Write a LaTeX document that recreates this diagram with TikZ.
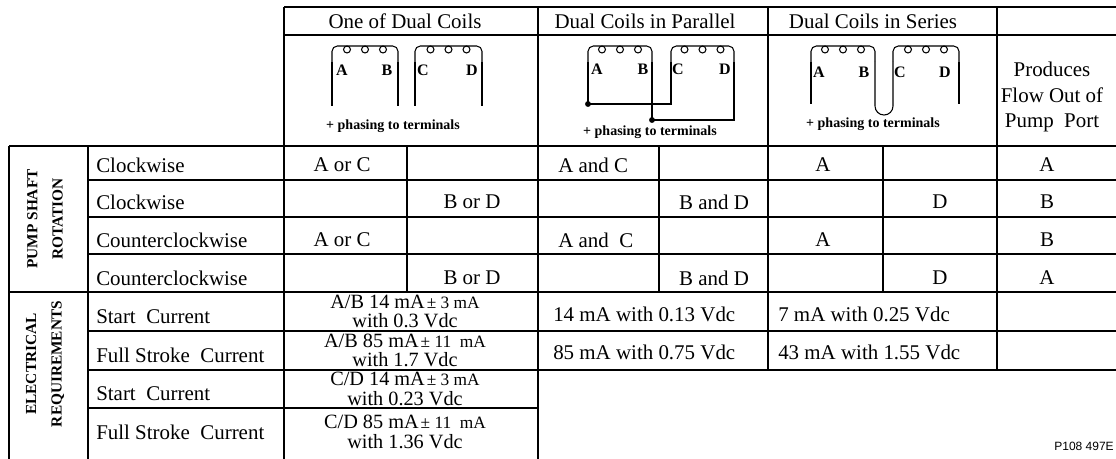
\documentclass[tikz,border=0pt]{standalone}
\usepackage{fontspec}
\setmainfont{Liberation Serif}
\newfontfamily\refsans{Liberation Sans}
\tikzset{
  rule/.style={black, line width=1.4pt},
  wire/.style={black, line width=0.8pt},
  txt/.style={font=\fontsize{15.7}{18}\selectfont, inner sep=0pt},
  pin/.style={font=\bfseries\fontsize{12}{12}\selectfont, inner sep=0pt},
  phase/.style={font=\bfseries\fontsize{10.5}{12}\selectfont, inner sep=0pt},
  side/.style={font=\bfseries\fontsize{11.5}{19}\selectfont, rotate=90, align=center, inner sep=0pt},
  spec/.style={font=\fontsize{15.2}{14.6}\selectfont, align=center, inner sep=0pt},
}
\newcommand{\tol}[1]{\kern1.5pt{\fontsize{13}{14.6}\selectfont ± #1}}
\begin{document}
\begin{tikzpicture}[x=0.75pt, y=-0.75pt]
\useasboundingbox (0,0) rectangle (1116,459);
% table rules
\foreach \y in {7,35} \draw[rule] (284,\y) -- (1116,\y);
\foreach \y in {146,292} \draw[rule] (9,\y) -- (1116,\y);
\foreach \y in {180,217,254,331,370} \draw[rule] (88,\y) -- (1116,\y);
\draw[rule] (88,408) -- (538,408);
\foreach \x in {9,88} \draw[rule] (\x,146) -- (\x,459);
\foreach \x in {284,538} \draw[rule] (\x,7) -- (\x,459);
\foreach \x in {768,997} \draw[rule] (\x,7) -- (\x,370);
\foreach \x in {407,659,883} \draw[rule] (\x,146) -- (\x,292);
% headers
\node[txt] (hone) at (405,21) {One of Dual Coils};
\node[txt] (hpar) at (645,21) {Dual Coils in Parallel};
\node[txt] (hser) at (873,21) {Dual Coils in Series};
\node[txt, align=center, font=\fontsize{15.7}{18.8}\selectfont] (hflow) at (1052,97) {Produces\\Flow Out of\\Pump~ Port};
% coils
\foreach \xl/\xr in {332/398, 415/482, 588/652, 671/734, 811/875, 893/959} {
  \draw[wire, rounded corners=4pt] (\xl,62) -- (\xl,46) -- (\xr,46) -- (\xr,62);
  \foreach \k in {-1,0,1}
    \draw[wire] ({(\xl+\xr)/2+18*\k},49.5) circle (2.6pt);
}
% one of dual coils
\foreach \x in {332,398,415,482} \draw[wire] (\x,62) -- (\x,106);
% parallel
\draw[wire] (588,62) -- (588,104) -- (671,104) -- (671,62);
\draw[wire] (652,62) -- (652,120) -- (734,120) -- (734,62);
\fill (588,104) circle (2.2pt);
\fill (652,120) circle (2.2pt);
% series
\draw[wire] (811,62) -- (811,104);
\draw[wire] (959,62) -- (959,104);
\draw[wire, rounded corners=6.7pt] (875,62) -- (875,115) -- (893,115) -- (893,62);
% terminal letters
\foreach \x/\t [count=\i] in {342/A, 387/B, 423/C, 472/D} \node[pin] (po\i) at (\x,70) {\t};
\foreach \x/\t [count=\i] in {597/A, 643/B, 678/C, 725/D} \node[pin] (pp\i) at (\x,69) {\t};
\foreach \x/\t [count=\i] in {819/A, 864/B, 900/C, 945/D} \node[pin] (ps\i) at (\x,72) {\t};
\node[phase] (fone) at (393,126) {+ phasing to terminals};
\node[phase] (fpar) at (650,132) {+ phasing to terminals};
\node[phase] (fser) at (873,124) {+ phasing to terminals};
% side labels
\node[side] (spump) at (45,219) {PUMP SHAFT\\ROTATION};
\node[side] (selec) at (45,364) {ELECTRICAL\\REQUIREMENTS};
% row labels
\foreach \y/\t [count=\i] in {165/Clockwise, 202/Clockwise, 240/Counterclockwise, 278/Counterclockwise,
    317/Start~ Current, 355/Full Stroke~ Current, 394/Start~ Current, 432/Full Stroke~ Current}
  \node[txt, anchor=west] (row\i) at (96,\y) {\t};
% rotation rows
\node[txt] (c1a) at (342,165) {A or C};
\node[txt, anchor=west] (c1b) at (558,165) {A and C};
\node[txt] (c1c) at (823,165) {A};
\node[txt] (c1d) at (1047,165) {A};
\node[txt] (c2a) at (472,202) {B or D};
\node[txt] (c2b) at (714,202) {B and D};
\node[txt] (c2c) at (940,202) {D};
\node[txt] (c2d) at (1047,202) {B};
\node[txt] (c3a) at (342,240) {A or C};
\node[txt, anchor=west] (c3b) at (558,240) {A and~ C};
\node[txt] (c3c) at (823,240) {A};
\node[txt] (c3d) at (1047,240) {B};
\node[txt] (c4a) at (472,278) {B or D};
\node[txt] (c4b) at (714,278) {B and D};
\node[txt] (c4c) at (940,278) {D};
\node[txt] (c4d) at (1047,278) {A};
% electrical rows
\node[spec] (e1) at (405,311.5) {A/B 14 mA\tol{3 mA}\\with 0.3 Vdc};
\node[spec] (e2) at (405,350.5) {A/B 85 mA\tol{11~ mA}\\with 1.7 Vdc};
\node[spec] (e3) at (405,389) {C/D 14 mA\tol{3 mA}\\with 0.23 Vdc};
\node[spec] (e4) at (405,432) {C/D 85 mA\tol{11~ mA}\\with 1.36 Vdc};
\node[txt, anchor=west] (e1p) at (553,314) {14 mA with 0.13 Vdc};
\node[txt, anchor=west] (e1s) at (778,314) {7 mA with 0.25 Vdc};
\node[txt, anchor=west] (e2p) at (553,352) {85 mA with 0.75 Vdc};
\node[txt, anchor=west] (e2s) at (778,352) {43 mA with 1.55 Vdc};
\node[anchor=east, inner sep=0pt, font=\refsans\fontsize{9}{10}\selectfont] (ref) at (1114,446) {P108 497E};
\end{tikzpicture}
\end{document}
